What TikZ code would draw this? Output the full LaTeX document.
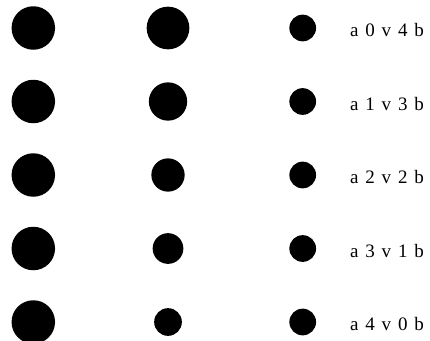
\documentclass[tikz,border=0pt]{standalone}
\usepackage{fontspec}
\newfontfamily\lblfont{Liberation Serif}
\usetikzlibrary{positioning}

%% spaced-out label: a<i>v<j>b
\newcommand{\lgap}{6.8pt}
\newcommand{\spacedlbl}[2]{a\kern\lgap#1\kern\lgap v\kern\lgap#2\kern\lgap b}

\begin{document}
\begin{tikzpicture}[
    x=1pt, y=-1pt,
    dot/.style = {circle, fill=black, inner sep=0pt, outer sep=0pt},
    lbl/.style = {font=\lblfont\fontsize{19}{19}\selectfont, inner sep=0pt,
                  anchor=base west},
]

%% ---- Layout coordinates ----
\def\xA{33.3}
\def\xB{168}
\def\xC{302.7}
\def\yTop{28}
\def\yStep{73.5}

\useasboundingbox (0,0) rectangle (430,340);

%% ==================================================================
%% DOTS AND LABELS
%% ==================================================================
\foreach \i/\sz in {0/42.7, 1/38.3, 2/33.3, 3/30.7, 4/27.7} {
    \pgfmathsetmacro{\yy}{\yTop + \i*\yStep}
    \pgfmathtruncatemacro{\j}{4 - \i}
    \node[dot, minimum size=43.5pt] (big\i)  at (\xA, \yy) {};
    \node[dot, minimum size=\sz pt] (mid\i)  at (\xB, \yy) {};
    \node[dot, minimum size=26.7pt] (small\i) at (\xC, \yy) {};
    \node[lbl] (lab\i) at (350, \yy + 8.7) {\spacedlbl{\i}{\j}};
}

\end{tikzpicture}
\end{document}
